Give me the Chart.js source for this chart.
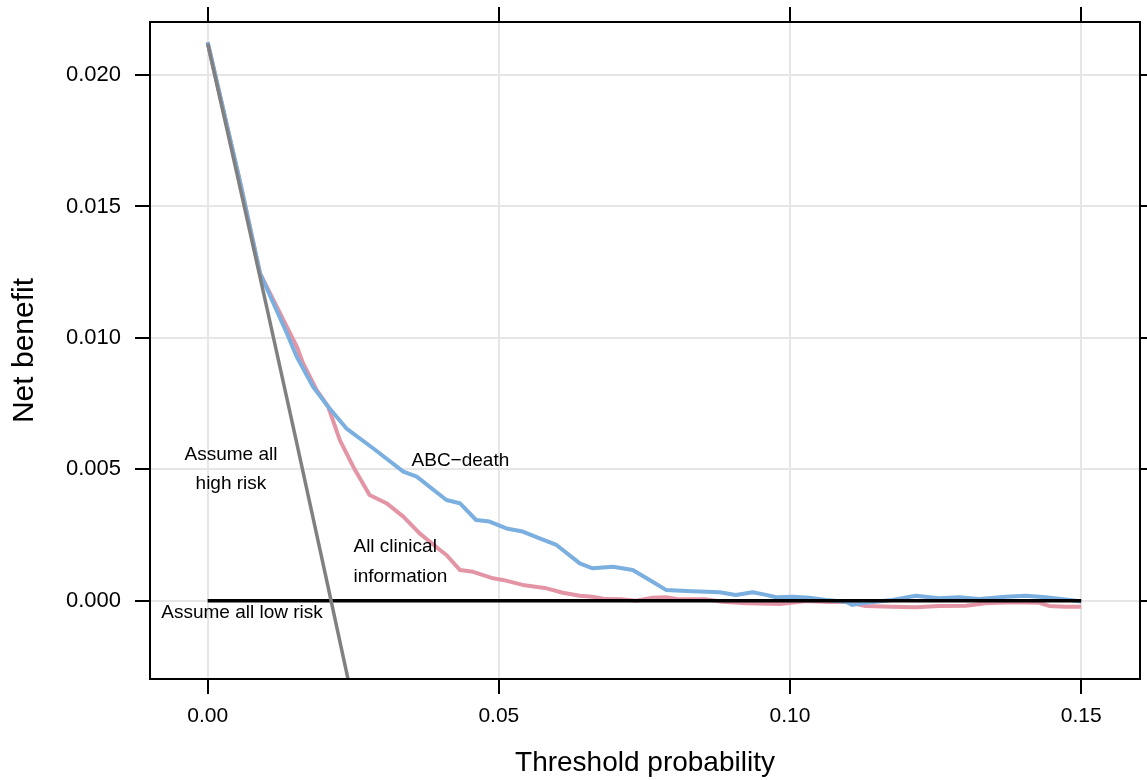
<!DOCTYPE html>
<html>
<head>
<meta charset="utf-8">
<script src="https://cdn.jsdelivr.net/npm/chart.js@4/dist/chart.umd.min.js"></script>
<style>
html,body{margin:0;padding:0;background:#fff;}
#wrap{width:1147px;height:780px;}
</style>
</head>
<body>
<div id="wrap"><canvas id="c" width="1147" height="780"></canvas></div>
<script>
// ---- data ----
const xTickValues = [0, 0.05, 0.10, 0.15];
const yTickValues = [0, 0.005, 0.010, 0.015, 0.020];

const thresholdsAll = [0, 0.005, 0.010, 0.015, 0.020, 0.025];
const netBenefitAll = [0.0212, 0.01628, 0.01131, 0.00630, 0.00122, -0.00390];

const thresholdsNone = [0, 0.15];
const netBenefitNone = [0, 0];

const thresholdsABC = [0, 0.0056, 0.009, 0.0136, 0.0153, 0.0181, 0.0207, 0.0238, 0.0284, 0.0336,
  0.0359, 0.0410, 0.0433, 0.0461, 0.0484, 0.0513, 0.0541, 0.0570, 0.0599, 0.0639,
  0.0661, 0.0696, 0.0730, 0.0764, 0.0787, 0.0822, 0.0879, 0.0907, 0.0936, 0.0959,
  0.0976, 0.1005, 0.1033, 0.1062, 0.1096, 0.1107, 0.1130, 0.1176, 0.1216, 0.1256,
  0.1290, 0.1325, 0.1371, 0.1405, 0.1439, 0.1473, 0.15];
const netBenefitABC = [0.02125, 0.0159, 0.01245, 0.01018, 0.00928, 0.00814, 0.00738, 0.00656, 0.00580, 0.00491,
  0.00472, 0.00383, 0.00371, 0.00307, 0.00301, 0.00275, 0.00263, 0.00237, 0.00212, 0.00142,
  0.00123, 0.00129, 0.00117, 0.00072, 0.00041, 0.00037, 0.00032, 0.00022, 0.00032, 0.00022,
  0.00013, 0.00015, 0.00011, 0.00003, -0.00004, -0.00016, -0.00008, 0.00003, 0.00019, 0.00009,
  0.00013, 0.00006, 0.00015, 0.00019, 0.00013, 0.00005, -0.00003];

const thresholdsClin = [0, 0.0056, 0.009, 0.0130, 0.0153, 0.0164, 0.0187, 0.0207, 0.0227, 0.0250,
  0.0278, 0.0307, 0.0336, 0.0364, 0.0399, 0.0410, 0.0433, 0.0456, 0.0490, 0.0507,
  0.0541, 0.0582, 0.0610, 0.0639, 0.0661, 0.0684, 0.0713, 0.0736, 0.0764, 0.0787,
  0.0810, 0.0856, 0.0884, 0.0925, 0.0982, 0.0999, 0.1027, 0.1067, 0.1096, 0.1130,
  0.1176, 0.1216, 0.1256, 0.1302, 0.1336, 0.1382, 0.1428, 0.1445, 0.1473, 0.15];
const netBenefitClin = [0.02125, 0.0159, 0.01245, 0.01068, 0.00967, 0.00903, 0.00802, 0.00738, 0.00611, 0.00510,
  0.00402, 0.00371, 0.00320, 0.00256, 0.00193, 0.00174, 0.00117, 0.00110, 0.00085, 0.00079,
  0.00060, 0.00047, 0.00030, 0.00019, 0.00015, 0.00006, 0.00005, 0.00000, 0.00011, 0.00013,
  0.00005, 0.00005, -0.00004, -0.00010, -0.00013, -0.00009, -0.00001, -0.00005, -0.00004, -0.00020,
  -0.00023, -0.00025, -0.00020, -0.00019, -0.00010, -0.00006, -0.00008, -0.00020, -0.00023, -0.00023];

const noteText = ["Assume all", "high risk", "ABC\u2212death", "All clinical", "information", "Assume all low risk"];
const noteX = [0.0040, 0.0040, 0.0434, 0.0322, 0.0331, 0.0059];
const noteY = [0.00554, 0.00444, 0.00532, 0.00204, 0.0009, -0.00047];

// ---- build ----
const pts = (xs, ys) => xs.map((x, i) => ({x: x, y: ys[i]}));
const FONT = '"Liberation Sans", Arial, Helvetica, sans-serif';

const framePlugin = {
  id: 'frame',
  afterDraw(chart) {
    const ctx = chart.ctx, a = chart.chartArea;
    const xs = chart.scales.x, ys = chart.scales.y;
    ctx.save();
    ctx.strokeStyle = '#000';
    ctx.lineWidth = 2;
    ctx.strokeRect(a.left, a.top, a.right - a.left, a.bottom - a.top);
    ctx.beginPath();
    xTickValues.forEach(v => {
      const p = Math.round(xs.getPixelForValue(v));
      ctx.moveTo(p, a.top); ctx.lineTo(p, a.top - 15);
    });
    yTickValues.forEach(v => {
      const p = Math.round(ys.getPixelForValue(v));
      ctx.moveTo(a.right, p); ctx.lineTo(a.right + 15, p);
    });
    ctx.stroke();
    ctx.fillStyle = '#000';
    ctx.font = '19px ' + FONT;
    ctx.textAlign = 'center';
    ctx.textBaseline = 'middle';
    noteText.forEach((t, i) => {
      ctx.fillText(t, xs.getPixelForValue(noteX[i]), ys.getPixelForValue(noteY[i]));
    });
    ctx.restore();
  }
};

new Chart(document.getElementById('c'), {
  type: 'line',
  data: {
    datasets: [
      {label: 'Assume all high risk', data: pts(thresholdsAll, netBenefitAll), borderColor: '#808080', borderWidth: 3.5, pointRadius: 0, tension: 0},
      {label: 'Assume all low risk', data: pts(thresholdsNone, netBenefitNone), borderColor: '#000000', borderWidth: 3.5, pointRadius: 0, tension: 0},
      {label: 'ABC-death', data: pts(thresholdsABC, netBenefitABC), borderColor: '#7bafdf', borderWidth: 4, pointRadius: 0, tension: 0, borderJoinStyle: 'round'},
      {label: 'All clinical information', data: pts(thresholdsClin, netBenefitClin), borderColor: '#e495a5', borderWidth: 4, pointRadius: 0, tension: 0, borderJoinStyle: 'round'}
    ]
  },
  options: {
    responsive: false,
    animation: false,
    devicePixelRatio: 1,
    layout: {padding: {top: 22, right: 7, left: 0, bottom: 0}},
    plugins: {legend: {display: false}, tooltip: {enabled: false}},
    scales: {
      x: {
        type: 'linear',
        min: -0.0099,
        max: 0.1601,
        afterBuildTicks: s => { s.ticks = xTickValues.map(v => ({value: v})); },
        afterFit: s => { s.height = 101; s.paddingLeft = 0; s.paddingRight = 0; },
        grid: {color: '#e6e6e6', lineWidth: 2, tickColor: '#000', tickWidth: 2, tickLength: 15, drawTicks: true},
        border: {display: false},
        ticks: {padding: 10, color: '#000', font: {size: 21, family: FONT}, maxRotation: 0, callback: v => v.toFixed(2)},
        title: {display: true, text: 'Threshold probability', color: '#000', font: {size: 28, family: FONT}, padding: {top: 0, bottom: 0}}
      },
      y: {
        type: 'linear',
        min: -0.00298,
        max: 0.02202,
        afterBuildTicks: s => { s.ticks = yTickValues.map(v => ({value: v})); },
        afterFit: s => { s.width = 150; s.paddingTop = 0; s.paddingBottom = 0; },
        grid: {color: '#e6e6e6', lineWidth: 2, tickColor: '#000', tickWidth: 2, tickLength: 15, drawTicks: true},
        border: {display: false},
        ticks: {padding: 14, color: '#000', font: {size: 22, family: FONT}, callback: v => v.toFixed(3)},
        title: {display: true, text: 'Net benefit', color: '#000', font: {size: 30, family: FONT}, padding: {top: 7, bottom: 0}}
      }
    }
  },
  plugins: [framePlugin]
});
</script>
</body>
</html>
